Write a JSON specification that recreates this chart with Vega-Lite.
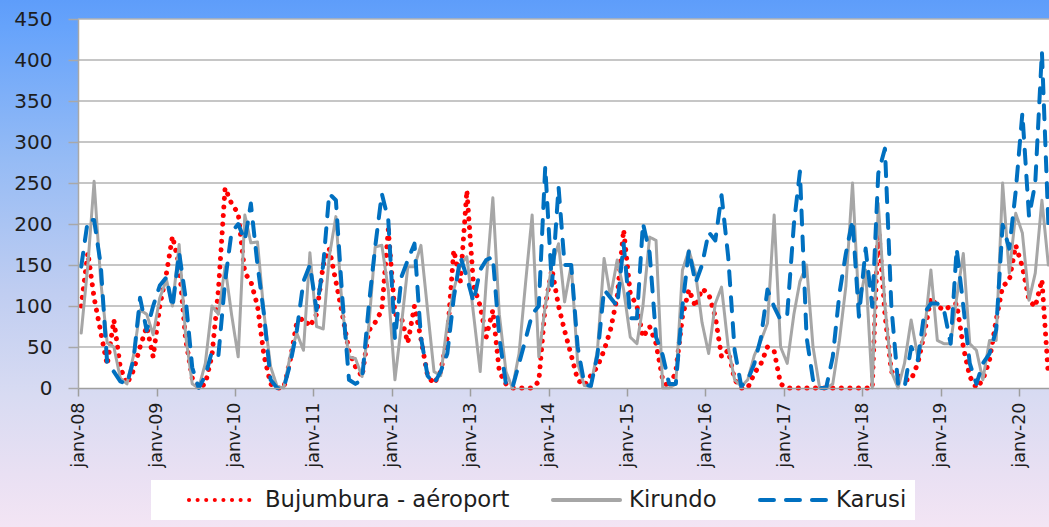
{
"$schema": "https://vega.github.io/schema/vega-lite/v6.json",
"width": 971,
"height": 369,
"autosize": {"type": "none"},
"padding": {"left": 78, "top": 19, "right": 0, "bottom": 139},
"background": "#dfe2f4",
"config": {"view": {"stroke": null}, "font": "DejaVu Sans", "axis": {"zindex": 1}},
"datasets": {"rain": [
{"d":"2008-01-16","s":"Bujumbura - aéroport","v":100},{"d":"2008-02-16","s":"Bujumbura - aéroport","v":165},{"d":"2008-03-16","s":"Bujumbura - aéroport","v":110},{"d":"2008-04-16","s":"Bujumbura - aéroport","v":68},{"d":"2008-05-16","s":"Bujumbura - aéroport","v":28},{"d":"2008-06-16","s":"Bujumbura - aéroport","v":83},{"d":"2008-07-16","s":"Bujumbura - aéroport","v":25},{"d":"2008-08-16","s":"Bujumbura - aéroport","v":5},{"d":"2008-09-16","s":"Bujumbura - aéroport","v":22},{"d":"2008-10-16","s":"Bujumbura - aéroport","v":50},{"d":"2008-11-16","s":"Bujumbura - aéroport","v":75},{"d":"2008-12-16","s":"Bujumbura - aéroport","v":38},
{"d":"2009-01-16","s":"Bujumbura - aéroport","v":100},{"d":"2009-02-16","s":"Bujumbura - aéroport","v":140},{"d":"2009-03-16","s":"Bujumbura - aéroport","v":185},{"d":"2009-04-16","s":"Bujumbura - aéroport","v":150},{"d":"2009-05-16","s":"Bujumbura - aéroport","v":60},{"d":"2009-06-16","s":"Bujumbura - aéroport","v":12},{"d":"2009-07-16","s":"Bujumbura - aéroport","v":0},{"d":"2009-08-16","s":"Bujumbura - aéroport","v":5},{"d":"2009-09-16","s":"Bujumbura - aéroport","v":40},{"d":"2009-10-16","s":"Bujumbura - aéroport","v":120},{"d":"2009-11-16","s":"Bujumbura - aéroport","v":244},{"d":"2009-12-16","s":"Bujumbura - aéroport","v":225},
{"d":"2010-01-16","s":"Bujumbura - aéroport","v":213},{"d":"2010-02-16","s":"Bujumbura - aéroport","v":140},{"d":"2010-03-16","s":"Bujumbura - aéroport","v":130},{"d":"2010-04-16","s":"Bujumbura - aéroport","v":100},{"d":"2010-05-16","s":"Bujumbura - aéroport","v":40},{"d":"2010-06-16","s":"Bujumbura - aéroport","v":5},{"d":"2010-07-16","s":"Bujumbura - aéroport","v":0},{"d":"2010-08-16","s":"Bujumbura - aéroport","v":0},{"d":"2010-09-16","s":"Bujumbura - aéroport","v":35},{"d":"2010-10-16","s":"Bujumbura - aéroport","v":80},{"d":"2010-11-16","s":"Bujumbura - aéroport","v":85},{"d":"2010-12-16","s":"Bujumbura - aéroport","v":75},
{"d":"2011-01-16","s":"Bujumbura - aéroport","v":90},{"d":"2011-02-16","s":"Bujumbura - aéroport","v":150},{"d":"2011-03-16","s":"Bujumbura - aéroport","v":170},{"d":"2011-04-16","s":"Bujumbura - aéroport","v":130},{"d":"2011-05-16","s":"Bujumbura - aéroport","v":90},{"d":"2011-06-16","s":"Bujumbura - aéroport","v":45},{"d":"2011-07-16","s":"Bujumbura - aéroport","v":26},{"d":"2011-08-16","s":"Bujumbura - aéroport","v":14},{"d":"2011-09-16","s":"Bujumbura - aéroport","v":70},{"d":"2011-10-16","s":"Bujumbura - aéroport","v":80},{"d":"2011-11-16","s":"Bujumbura - aéroport","v":95},{"d":"2011-12-16","s":"Bujumbura - aéroport","v":193},
{"d":"2012-01-16","s":"Bujumbura - aéroport","v":90},{"d":"2012-02-16","s":"Bujumbura - aéroport","v":85},{"d":"2012-03-16","s":"Bujumbura - aéroport","v":55},{"d":"2012-04-16","s":"Bujumbura - aéroport","v":100},{"d":"2012-05-16","s":"Bujumbura - aéroport","v":60},{"d":"2012-06-16","s":"Bujumbura - aéroport","v":15},{"d":"2012-07-16","s":"Bujumbura - aéroport","v":5},{"d":"2012-08-16","s":"Bujumbura - aéroport","v":20},{"d":"2012-09-16","s":"Bujumbura - aéroport","v":62},{"d":"2012-10-16","s":"Bujumbura - aéroport","v":168},{"d":"2012-11-16","s":"Bujumbura - aéroport","v":130},{"d":"2012-12-16","s":"Bujumbura - aéroport","v":241},
{"d":"2013-01-16","s":"Bujumbura - aéroport","v":125},{"d":"2013-02-16","s":"Bujumbura - aéroport","v":100},{"d":"2013-03-16","s":"Bujumbura - aéroport","v":62},{"d":"2013-04-16","s":"Bujumbura - aéroport","v":95},{"d":"2013-05-16","s":"Bujumbura - aéroport","v":20},{"d":"2013-06-16","s":"Bujumbura - aéroport","v":5},{"d":"2013-07-16","s":"Bujumbura - aéroport","v":0},{"d":"2013-08-16","s":"Bujumbura - aéroport","v":0},{"d":"2013-09-16","s":"Bujumbura - aéroport","v":0},{"d":"2013-10-16","s":"Bujumbura - aéroport","v":0},{"d":"2013-11-16","s":"Bujumbura - aéroport","v":8},{"d":"2013-12-16","s":"Bujumbura - aéroport","v":100},
{"d":"2014-01-16","s":"Bujumbura - aéroport","v":145},{"d":"2014-02-16","s":"Bujumbura - aéroport","v":100},{"d":"2014-03-16","s":"Bujumbura - aéroport","v":70},{"d":"2014-04-16","s":"Bujumbura - aéroport","v":40},{"d":"2014-05-16","s":"Bujumbura - aéroport","v":10},{"d":"2014-06-16","s":"Bujumbura - aéroport","v":3},{"d":"2014-07-16","s":"Bujumbura - aéroport","v":15},{"d":"2014-08-16","s":"Bujumbura - aéroport","v":26},{"d":"2014-09-16","s":"Bujumbura - aéroport","v":46},{"d":"2014-10-16","s":"Bujumbura - aéroport","v":71},{"d":"2014-11-16","s":"Bujumbura - aéroport","v":111},{"d":"2014-12-16","s":"Bujumbura - aéroport","v":193},
{"d":"2015-01-16","s":"Bujumbura - aéroport","v":115},{"d":"2015-02-16","s":"Bujumbura - aéroport","v":100},{"d":"2015-03-16","s":"Bujumbura - aéroport","v":62},{"d":"2015-04-16","s":"Bujumbura - aéroport","v":75},{"d":"2015-05-16","s":"Bujumbura - aéroport","v":54},{"d":"2015-06-16","s":"Bujumbura - aéroport","v":10},{"d":"2015-07-16","s":"Bujumbura - aéroport","v":0},{"d":"2015-08-16","s":"Bujumbura - aéroport","v":20},{"d":"2015-09-16","s":"Bujumbura - aéroport","v":87},{"d":"2015-10-16","s":"Bujumbura - aéroport","v":120},{"d":"2015-11-16","s":"Bujumbura - aéroport","v":99},{"d":"2015-12-16","s":"Bujumbura - aéroport","v":121},
{"d":"2016-01-16","s":"Bujumbura - aéroport","v":115},{"d":"2016-02-16","s":"Bujumbura - aéroport","v":87},{"d":"2016-03-16","s":"Bujumbura - aéroport","v":38},{"d":"2016-04-16","s":"Bujumbura - aéroport","v":46},{"d":"2016-05-16","s":"Bujumbura - aéroport","v":10},{"d":"2016-06-16","s":"Bujumbura - aéroport","v":0},{"d":"2016-07-16","s":"Bujumbura - aéroport","v":0},{"d":"2016-08-16","s":"Bujumbura - aéroport","v":18},{"d":"2016-09-16","s":"Bujumbura - aéroport","v":30},{"d":"2016-10-16","s":"Bujumbura - aéroport","v":50},{"d":"2016-11-16","s":"Bujumbura - aéroport","v":45},{"d":"2016-12-16","s":"Bujumbura - aéroport","v":5},
{"d":"2017-01-16","s":"Bujumbura - aéroport","v":0},{"d":"2017-02-16","s":"Bujumbura - aéroport","v":0},{"d":"2017-03-16","s":"Bujumbura - aéroport","v":0},{"d":"2017-04-16","s":"Bujumbura - aéroport","v":0},{"d":"2017-05-16","s":"Bujumbura - aéroport","v":0},{"d":"2017-06-16","s":"Bujumbura - aéroport","v":0},{"d":"2017-07-16","s":"Bujumbura - aéroport","v":0},{"d":"2017-08-16","s":"Bujumbura - aéroport","v":0},{"d":"2017-09-16","s":"Bujumbura - aéroport","v":0},{"d":"2017-10-16","s":"Bujumbura - aéroport","v":0},{"d":"2017-11-16","s":"Bujumbura - aéroport","v":0},{"d":"2017-12-16","s":"Bujumbura - aéroport","v":0},
{"d":"2018-01-16","s":"Bujumbura - aéroport","v":0},{"d":"2018-02-16","s":"Bujumbura - aéroport","v":0},{"d":"2018-03-16","s":"Bujumbura - aéroport","v":200},{"d":"2018-04-16","s":"Bujumbura - aéroport","v":90},{"d":"2018-05-16","s":"Bujumbura - aéroport","v":20},{"d":"2018-06-16","s":"Bujumbura - aéroport","v":15},{"d":"2018-07-16","s":"Bujumbura - aéroport","v":10},{"d":"2018-08-16","s":"Bujumbura - aéroport","v":10},{"d":"2018-09-16","s":"Bujumbura - aéroport","v":30},{"d":"2018-10-16","s":"Bujumbura - aéroport","v":66},{"d":"2018-11-16","s":"Bujumbura - aéroport","v":110},{"d":"2018-12-16","s":"Bujumbura - aéroport","v":100},
{"d":"2019-01-16","s":"Bujumbura - aéroport","v":95},{"d":"2019-02-16","s":"Bujumbura - aéroport","v":100},{"d":"2019-03-16","s":"Bujumbura - aéroport","v":103},{"d":"2019-04-16","s":"Bujumbura - aéroport","v":50},{"d":"2019-05-16","s":"Bujumbura - aéroport","v":14},{"d":"2019-06-16","s":"Bujumbura - aéroport","v":0},{"d":"2019-07-16","s":"Bujumbura - aéroport","v":10},{"d":"2019-08-16","s":"Bujumbura - aéroport","v":34},{"d":"2019-09-16","s":"Bujumbura - aéroport","v":83},{"d":"2019-10-16","s":"Bujumbura - aéroport","v":124},{"d":"2019-11-16","s":"Bujumbura - aéroport","v":131},{"d":"2019-12-16","s":"Bujumbura - aéroport","v":174},
{"d":"2020-01-16","s":"Bujumbura - aéroport","v":148},{"d":"2020-02-16","s":"Bujumbura - aéroport","v":107},{"d":"2020-03-16","s":"Bujumbura - aéroport","v":99},{"d":"2020-04-16","s":"Bujumbura - aéroport","v":132},{"d":"2020-05-16","s":"Bujumbura - aéroport","v":15},
{"d":"2008-01-16","s":"Kirundo","v":67},{"d":"2008-02-16","s":"Kirundo","v":150},{"d":"2008-03-16","s":"Kirundo","v":252},{"d":"2008-04-16","s":"Kirundo","v":130},{"d":"2008-05-16","s":"Kirundo","v":55},{"d":"2008-06-16","s":"Kirundo","v":50},{"d":"2008-07-16","s":"Kirundo","v":12},{"d":"2008-08-16","s":"Kirundo","v":5},{"d":"2008-09-16","s":"Kirundo","v":40},{"d":"2008-10-16","s":"Kirundo","v":95},{"d":"2008-11-16","s":"Kirundo","v":90},{"d":"2008-12-16","s":"Kirundo","v":65},
{"d":"2009-01-16","s":"Kirundo","v":110},{"d":"2009-02-16","s":"Kirundo","v":132},{"d":"2009-03-16","s":"Kirundo","v":100},{"d":"2009-04-16","s":"Kirundo","v":175},{"d":"2009-05-16","s":"Kirundo","v":65},{"d":"2009-06-16","s":"Kirundo","v":5},{"d":"2009-07-16","s":"Kirundo","v":0},{"d":"2009-08-16","s":"Kirundo","v":30},{"d":"2009-09-16","s":"Kirundo","v":100},{"d":"2009-10-16","s":"Kirundo","v":90},{"d":"2009-11-16","s":"Kirundo","v":148},{"d":"2009-12-16","s":"Kirundo","v":90},
{"d":"2010-01-16","s":"Kirundo","v":38},{"d":"2010-02-16","s":"Kirundo","v":211},{"d":"2010-03-16","s":"Kirundo","v":177},{"d":"2010-04-16","s":"Kirundo","v":178},{"d":"2010-05-16","s":"Kirundo","v":91},{"d":"2010-06-16","s":"Kirundo","v":26},{"d":"2010-07-16","s":"Kirundo","v":2},{"d":"2010-08-16","s":"Kirundo","v":0},{"d":"2010-09-16","s":"Kirundo","v":40},{"d":"2010-10-16","s":"Kirundo","v":67},{"d":"2010-11-16","s":"Kirundo","v":46},{"d":"2010-12-16","s":"Kirundo","v":165},
{"d":"2011-01-16","s":"Kirundo","v":75},{"d":"2011-02-16","s":"Kirundo","v":72},{"d":"2011-03-16","s":"Kirundo","v":160},{"d":"2011-04-16","s":"Kirundo","v":209},{"d":"2011-05-16","s":"Kirundo","v":95},{"d":"2011-06-16","s":"Kirundo","v":38},{"d":"2011-07-16","s":"Kirundo","v":36},{"d":"2011-08-16","s":"Kirundo","v":14},{"d":"2011-09-16","s":"Kirundo","v":75},{"d":"2011-10-16","s":"Kirundo","v":172},{"d":"2011-11-16","s":"Kirundo","v":174},{"d":"2011-12-16","s":"Kirundo","v":120},
{"d":"2012-01-16","s":"Kirundo","v":10},{"d":"2012-02-16","s":"Kirundo","v":79},{"d":"2012-03-16","s":"Kirundo","v":148},{"d":"2012-04-16","s":"Kirundo","v":148},{"d":"2012-05-16","s":"Kirundo","v":174},{"d":"2012-06-16","s":"Kirundo","v":95},{"d":"2012-07-16","s":"Kirundo","v":20},{"d":"2012-08-16","s":"Kirundo","v":15},{"d":"2012-09-16","s":"Kirundo","v":79},{"d":"2012-10-16","s":"Kirundo","v":120},{"d":"2012-11-16","s":"Kirundo","v":150},{"d":"2012-12-16","s":"Kirundo","v":160},
{"d":"2013-01-16","s":"Kirundo","v":90},{"d":"2013-02-16","s":"Kirundo","v":20},{"d":"2013-03-16","s":"Kirundo","v":130},{"d":"2013-04-16","s":"Kirundo","v":232},{"d":"2013-05-16","s":"Kirundo","v":90},{"d":"2013-06-16","s":"Kirundo","v":20},{"d":"2013-07-16","s":"Kirundo","v":0},{"d":"2013-08-16","s":"Kirundo","v":42},{"d":"2013-09-16","s":"Kirundo","v":130},{"d":"2013-10-16","s":"Kirundo","v":211},{"d":"2013-11-16","s":"Kirundo","v":38},{"d":"2013-12-16","s":"Kirundo","v":100},
{"d":"2014-01-16","s":"Kirundo","v":150},{"d":"2014-02-16","s":"Kirundo","v":176},{"d":"2014-03-16","s":"Kirundo","v":105},{"d":"2014-04-16","s":"Kirundo","v":150},{"d":"2014-05-16","s":"Kirundo","v":30},{"d":"2014-06-16","s":"Kirundo","v":3},{"d":"2014-07-16","s":"Kirundo","v":2},{"d":"2014-08-16","s":"Kirundo","v":46},{"d":"2014-09-16","s":"Kirundo","v":158},{"d":"2014-10-16","s":"Kirundo","v":111},{"d":"2014-11-16","s":"Kirundo","v":156},{"d":"2014-12-16","s":"Kirundo","v":120},
{"d":"2015-01-16","s":"Kirundo","v":62},{"d":"2015-02-16","s":"Kirundo","v":54},{"d":"2015-03-16","s":"Kirundo","v":100},{"d":"2015-04-16","s":"Kirundo","v":184},{"d":"2015-05-16","s":"Kirundo","v":180},{"d":"2015-06-16","s":"Kirundo","v":0},{"d":"2015-07-16","s":"Kirundo","v":0},{"d":"2015-08-16","s":"Kirundo","v":5},{"d":"2015-09-16","s":"Kirundo","v":144},{"d":"2015-10-16","s":"Kirundo","v":168},{"d":"2015-11-16","s":"Kirundo","v":140},{"d":"2015-12-16","s":"Kirundo","v":80},
{"d":"2016-01-16","s":"Kirundo","v":42},{"d":"2016-02-16","s":"Kirundo","v":103},{"d":"2016-03-16","s":"Kirundo","v":123},{"d":"2016-04-16","s":"Kirundo","v":50},{"d":"2016-05-16","s":"Kirundo","v":10},{"d":"2016-06-16","s":"Kirundo","v":2},{"d":"2016-07-16","s":"Kirundo","v":10},{"d":"2016-08-16","s":"Kirundo","v":40},{"d":"2016-09-16","s":"Kirundo","v":58},{"d":"2016-10-16","s":"Kirundo","v":79},{"d":"2016-11-16","s":"Kirundo","v":211},{"d":"2016-12-16","s":"Kirundo","v":50},
{"d":"2017-01-16","s":"Kirundo","v":30},{"d":"2017-02-16","s":"Kirundo","v":90},{"d":"2017-03-16","s":"Kirundo","v":130},{"d":"2017-04-16","s":"Kirundo","v":150},{"d":"2017-05-16","s":"Kirundo","v":50},{"d":"2017-06-16","s":"Kirundo","v":0},{"d":"2017-07-16","s":"Kirundo","v":0},{"d":"2017-08-16","s":"Kirundo","v":5},{"d":"2017-09-16","s":"Kirundo","v":58},{"d":"2017-10-16","s":"Kirundo","v":124},{"d":"2017-11-16","s":"Kirundo","v":250},{"d":"2017-12-16","s":"Kirundo","v":99},
{"d":"2018-01-16","s":"Kirundo","v":144},{"d":"2018-02-16","s":"Kirundo","v":0},{"d":"2018-03-16","s":"Kirundo","v":225},{"d":"2018-04-16","s":"Kirundo","v":100},{"d":"2018-05-16","s":"Kirundo","v":20},{"d":"2018-06-16","s":"Kirundo","v":0},{"d":"2018-07-16","s":"Kirundo","v":30},{"d":"2018-08-16","s":"Kirundo","v":83},{"d":"2018-09-16","s":"Kirundo","v":38},{"d":"2018-10-16","s":"Kirundo","v":66},{"d":"2018-11-16","s":"Kirundo","v":144},{"d":"2018-12-16","s":"Kirundo","v":58},
{"d":"2019-01-16","s":"Kirundo","v":54},{"d":"2019-02-16","s":"Kirundo","v":54},{"d":"2019-03-16","s":"Kirundo","v":110},{"d":"2019-04-16","s":"Kirundo","v":164},{"d":"2019-05-16","s":"Kirundo","v":54},{"d":"2019-06-16","s":"Kirundo","v":46},{"d":"2019-07-16","s":"Kirundo","v":10},{"d":"2019-08-16","s":"Kirundo","v":58},{"d":"2019-09-16","s":"Kirundo","v":58},{"d":"2019-10-16","s":"Kirundo","v":250},{"d":"2019-11-16","s":"Kirundo","v":140},{"d":"2019-12-16","s":"Kirundo","v":213},
{"d":"2020-01-16","s":"Kirundo","v":189},{"d":"2020-02-16","s":"Kirundo","v":107},{"d":"2020-03-16","s":"Kirundo","v":140},{"d":"2020-04-16","s":"Kirundo","v":229},{"d":"2020-05-16","s":"Kirundo","v":150},
{"d":"2008-01-16","s":"Karusi","v":148},{"d":"2008-02-16","s":"Karusi","v":205},{"d":"2008-03-16","s":"Karusi","v":205},{"d":"2008-04-16","s":"Karusi","v":150},{"d":"2008-05-16","s":"Karusi","v":30},{"d":"2008-06-16","s":"Karusi","v":20},{"d":"2008-07-16","s":"Karusi","v":8},{"d":"2008-08-16","s":"Karusi","v":5},{"d":"2008-09-16","s":"Karusi","v":35},{"d":"2008-10-16","s":"Karusi","v":110},{"d":"2008-11-16","s":"Karusi","v":70},{"d":"2008-12-16","s":"Karusi","v":100},
{"d":"2009-01-16","s":"Karusi","v":125},{"d":"2009-02-16","s":"Karusi","v":135},{"d":"2009-03-16","s":"Karusi","v":98},{"d":"2009-04-16","s":"Karusi","v":165},{"d":"2009-05-16","s":"Karusi","v":110},{"d":"2009-06-16","s":"Karusi","v":25},{"d":"2009-07-16","s":"Karusi","v":0},{"d":"2009-08-16","s":"Karusi","v":15},{"d":"2009-09-16","s":"Karusi","v":45},{"d":"2009-10-16","s":"Karusi","v":40},{"d":"2009-11-16","s":"Karusi","v":130},{"d":"2009-12-16","s":"Karusi","v":190},
{"d":"2010-01-16","s":"Karusi","v":200},{"d":"2010-02-16","s":"Karusi","v":180},{"d":"2010-03-16","s":"Karusi","v":225},{"d":"2010-04-16","s":"Karusi","v":150},{"d":"2010-05-16","s":"Karusi","v":90},{"d":"2010-06-16","s":"Karusi","v":10},{"d":"2010-07-16","s":"Karusi","v":0},{"d":"2010-08-16","s":"Karusi","v":0},{"d":"2010-09-16","s":"Karusi","v":30},{"d":"2010-10-16","s":"Karusi","v":70},{"d":"2010-11-16","s":"Karusi","v":130},{"d":"2010-12-16","s":"Karusi","v":150},
{"d":"2011-01-16","s":"Karusi","v":95},{"d":"2011-02-16","s":"Karusi","v":150},{"d":"2011-03-16","s":"Karusi","v":237},{"d":"2011-04-16","s":"Karusi","v":229},{"d":"2011-05-16","s":"Karusi","v":110},{"d":"2011-06-16","s":"Karusi","v":10},{"d":"2011-07-16","s":"Karusi","v":5},{"d":"2011-08-16","s":"Karusi","v":10},{"d":"2011-09-16","s":"Karusi","v":100},{"d":"2011-10-16","s":"Karusi","v":172},{"d":"2011-11-16","s":"Karusi","v":237},{"d":"2011-12-16","s":"Karusi","v":205},
{"d":"2012-01-16","s":"Karusi","v":60},{"d":"2012-02-16","s":"Karusi","v":136},{"d":"2012-03-16","s":"Karusi","v":156},{"d":"2012-04-16","s":"Karusi","v":176},{"d":"2012-05-16","s":"Karusi","v":62},{"d":"2012-06-16","s":"Karusi","v":15},{"d":"2012-07-16","s":"Karusi","v":5},{"d":"2012-08-16","s":"Karusi","v":20},{"d":"2012-09-16","s":"Karusi","v":42},{"d":"2012-10-16","s":"Karusi","v":110},{"d":"2012-11-16","s":"Karusi","v":160},{"d":"2012-12-16","s":"Karusi","v":135},
{"d":"2013-01-16","s":"Karusi","v":105},{"d":"2013-02-16","s":"Karusi","v":144},{"d":"2013-03-16","s":"Karusi","v":156},{"d":"2013-04-16","s":"Karusi","v":160},{"d":"2013-05-16","s":"Karusi","v":62},{"d":"2013-06-16","s":"Karusi","v":5},{"d":"2013-07-16","s":"Karusi","v":0},{"d":"2013-08-16","s":"Karusi","v":30},{"d":"2013-09-16","s":"Karusi","v":60},{"d":"2013-10-16","s":"Karusi","v":90},{"d":"2013-11-16","s":"Karusi","v":100},{"d":"2013-12-16","s":"Karusi","v":270},
{"d":"2014-01-16","s":"Karusi","v":125},{"d":"2014-02-16","s":"Karusi","v":245},{"d":"2014-03-16","s":"Karusi","v":150},{"d":"2014-04-16","s":"Karusi","v":150},{"d":"2014-05-16","s":"Karusi","v":50},{"d":"2014-06-16","s":"Karusi","v":5},{"d":"2014-07-16","s":"Karusi","v":2},{"d":"2014-08-16","s":"Karusi","v":40},{"d":"2014-09-16","s":"Karusi","v":120},{"d":"2014-10-16","s":"Karusi","v":110},{"d":"2014-11-16","s":"Karusi","v":100},{"d":"2014-12-16","s":"Karusi","v":176},
{"d":"2015-01-16","s":"Karusi","v":85},{"d":"2015-02-16","s":"Karusi","v":85},{"d":"2015-03-16","s":"Karusi","v":201},{"d":"2015-04-16","s":"Karusi","v":165},{"d":"2015-05-16","s":"Karusi","v":62},{"d":"2015-06-16","s":"Karusi","v":40},{"d":"2015-07-16","s":"Karusi","v":5},{"d":"2015-08-16","s":"Karusi","v":5},{"d":"2015-09-16","s":"Karusi","v":100},{"d":"2015-10-16","s":"Karusi","v":168},{"d":"2015-11-16","s":"Karusi","v":128},{"d":"2015-12-16","s":"Karusi","v":150},
{"d":"2016-01-16","s":"Karusi","v":190},{"d":"2016-02-16","s":"Karusi","v":180},{"d":"2016-03-16","s":"Karusi","v":235},{"d":"2016-04-16","s":"Karusi","v":160},{"d":"2016-05-16","s":"Karusi","v":46},{"d":"2016-06-16","s":"Karusi","v":2},{"d":"2016-07-16","s":"Karusi","v":10},{"d":"2016-08-16","s":"Karusi","v":30},{"d":"2016-09-16","s":"Karusi","v":62},{"d":"2016-10-16","s":"Karusi","v":120},{"d":"2016-11-16","s":"Karusi","v":99},{"d":"2016-12-16","s":"Karusi","v":83},
{"d":"2017-01-16","s":"Karusi","v":90},{"d":"2017-02-16","s":"Karusi","v":200},{"d":"2017-03-16","s":"Karusi","v":264},{"d":"2017-04-16","s":"Karusi","v":62},{"d":"2017-05-16","s":"Karusi","v":10},{"d":"2017-06-16","s":"Karusi","v":0},{"d":"2017-07-16","s":"Karusi","v":0},{"d":"2017-08-16","s":"Karusi","v":38},{"d":"2017-09-16","s":"Karusi","v":115},{"d":"2017-10-16","s":"Karusi","v":164},{"d":"2017-11-16","s":"Karusi","v":205},{"d":"2017-12-16","s":"Karusi","v":87},
{"d":"2018-01-16","s":"Karusi","v":170},{"d":"2018-02-16","s":"Karusi","v":99},{"d":"2018-03-16","s":"Karusi","v":262},{"d":"2018-04-16","s":"Karusi","v":292},{"d":"2018-05-16","s":"Karusi","v":99},{"d":"2018-06-16","s":"Karusi","v":5},{"d":"2018-07-16","s":"Karusi","v":0},{"d":"2018-08-16","s":"Karusi","v":50},{"d":"2018-09-16","s":"Karusi","v":34},{"d":"2018-10-16","s":"Karusi","v":91},{"d":"2018-11-16","s":"Karusi","v":103},{"d":"2018-12-16","s":"Karusi","v":103},
{"d":"2019-01-16","s":"Karusi","v":95},{"d":"2019-02-16","s":"Karusi","v":54},{"d":"2019-03-16","s":"Karusi","v":170},{"d":"2019-04-16","s":"Karusi","v":100},{"d":"2019-05-16","s":"Karusi","v":30},{"d":"2019-06-16","s":"Karusi","v":5},{"d":"2019-07-16","s":"Karusi","v":30},{"d":"2019-08-16","s":"Karusi","v":42},{"d":"2019-09-16","s":"Karusi","v":71},{"d":"2019-10-16","s":"Karusi","v":199},{"d":"2019-11-16","s":"Karusi","v":170},{"d":"2019-12-16","s":"Karusi","v":240},
{"d":"2020-01-16","s":"Karusi","v":335},{"d":"2020-02-16","s":"Karusi","v":209},{"d":"2020-03-16","s":"Karusi","v":250},{"d":"2020-04-16","s":"Karusi","v":410},{"d":"2020-05-16","s":"Karusi","v":200}
]},
"layer": [
{
"data": {"values": [{}]},
"mark": {"type": "rect", "stroke": null, "fill": {"gradient": "linear", "x1": 0, "y1": 0, "x2": 0, "y2": 1, "stops": [{"offset": 0, "color": "#5e9dfa"}, {"offset": 0.05, "color": "#66a3fb"}, {"offset": 0.3, "color": "#95bbf5"}, {"offset": 0.55, "color": "#bfcdf1"}, {"offset": 0.75, "color": "#d8dbf2"}, {"offset": 0.9, "color": "#e9e0f3"}, {"offset": 1, "color": "#f3e5f4"}]}},
"encoding": {
"x": {"datum": {"year": 2006, "month": 11, "date": 1, "utc": true}, "type": "temporal", "scale": {"type": "utc", "nice": false, "domain": [{"year": 2008, "month": 1, "date": 1, "utc": true}, {"year": 2020, "month": 5, "date": 19, "utc": true}]}, "axis": {"title": null, "grid": false, "zindex": 1, "tickCount": {"interval": "year", "step": 1}, "labelExpr": "'janv-' + utcFormat(datum.value, '%y')", "labelAngle": -90, "labelFont": "DejaVu Sans", "labelFontSize": 17.5, "labelColor": "#1e1e1e", "labelPadding": 6, "tickSize": 8, "tickColor": "#9e9e9e", "tickWidth": 1.5, "domainColor": "#9e9e9e", "domainWidth": 1.5, "labelOverlap": false, "labelFlush": false, "labelBound": false}},
"x2": {"datum": {"year": 2020, "month": 9, "date": 1, "utc": true}},
"y": {"datum": -169.5, "type": "quantitative", "scale": {"domain": [0, 450], "nice": false}, "axis": {"title": null, "grid": false, "zindex": 1, "values": [0, 50, 100, 150, 200, 250, 300, 350, 400, 450], "labelFont": "DejaVu Sans", "labelFontSize": 20, "labelColor": "#1e1e1e", "labelPadding": 16, "tickSize": 10, "tickColor": "#a8a8a8", "tickWidth": 1.5, "domainColor": "#a8a8a8", "domainWidth": 1.5, "labelFlush": false, "labelBound": false}},
"y2": {"datum": 473.2}
}
},
{
"data": {"values": [{}]},
"mark": {"type": "rect", "stroke": null, "fill": "#ffffff"},
"encoding": {
"x": {"datum": {"year": 2008, "month": 1, "date": 1, "utc": true}, "type": "temporal"},
"x2": {"datum": {"year": 2020, "month": 9, "date": 1, "utc": true}},
"y": {"datum": 0, "type": "quantitative"},
"y2": {"datum": 450}
}
},
{
"data": {"values": [{"g": 50}, {"g": 100}, {"g": 150}, {"g": 200}, {"g": 250}, {"g": 300}, {"g": 350}, {"g": 400}, {"g": 450}]},
"mark": {"type": "rule", "color": "#b3b3b3", "strokeWidth": 1.6},
"encoding": {"y": {"field": "g", "type": "quantitative"}}
},
{
"data": {"name": "rain"},
"mark": {"type": "line", "strokeCap": "round", "strokeJoin": "round"},
"encoding": {
"x": {"field": "d", "type": "temporal"},
"y": {"field": "v", "type": "quantitative"},
"color": {"field": "s", "type": "nominal", "scale": {"domain": ["Bujumbura - aéroport", "Kirundo", "Karusi"], "range": ["#ff0000", "#a6a6a6", "#0070c0"]}, "legend": {"title": null, "orient": "none", "legendX": 73, "legendY": 461, "direction": "horizontal", "fillColor": "#ffffff", "padding": 8, "symbolType": "M-3.53,0H3.53", "symbolSize": 361, "symbolStrokeWidth": 4, "symbolOffset": 52, "labelOffset": 31, "columnPadding": 13, "labelFont": "DejaVu Sans", "labelFontSize": 22.7, "labelColor": "#1e1e1e", "labelLimit": 500, "encoding": {"symbols": {"strokeCap": {"value": "round"}}}}},
"strokeDash": {"field": "s", "type": "nominal", "scale": {"domain": ["Bujumbura - aéroport", "Kirundo", "Karusi"], "range": [[0.1, 8.5], [1, 0], [14, 12]]}},
"strokeWidth": {"field": "s", "type": "nominal", "scale": {"type": "point", "padding": 0, "domain": ["Kirundo", "Karusi", "Bujumbura - aéroport"], "range": [3, 5]}, "legend": null}
}
}
]
}
